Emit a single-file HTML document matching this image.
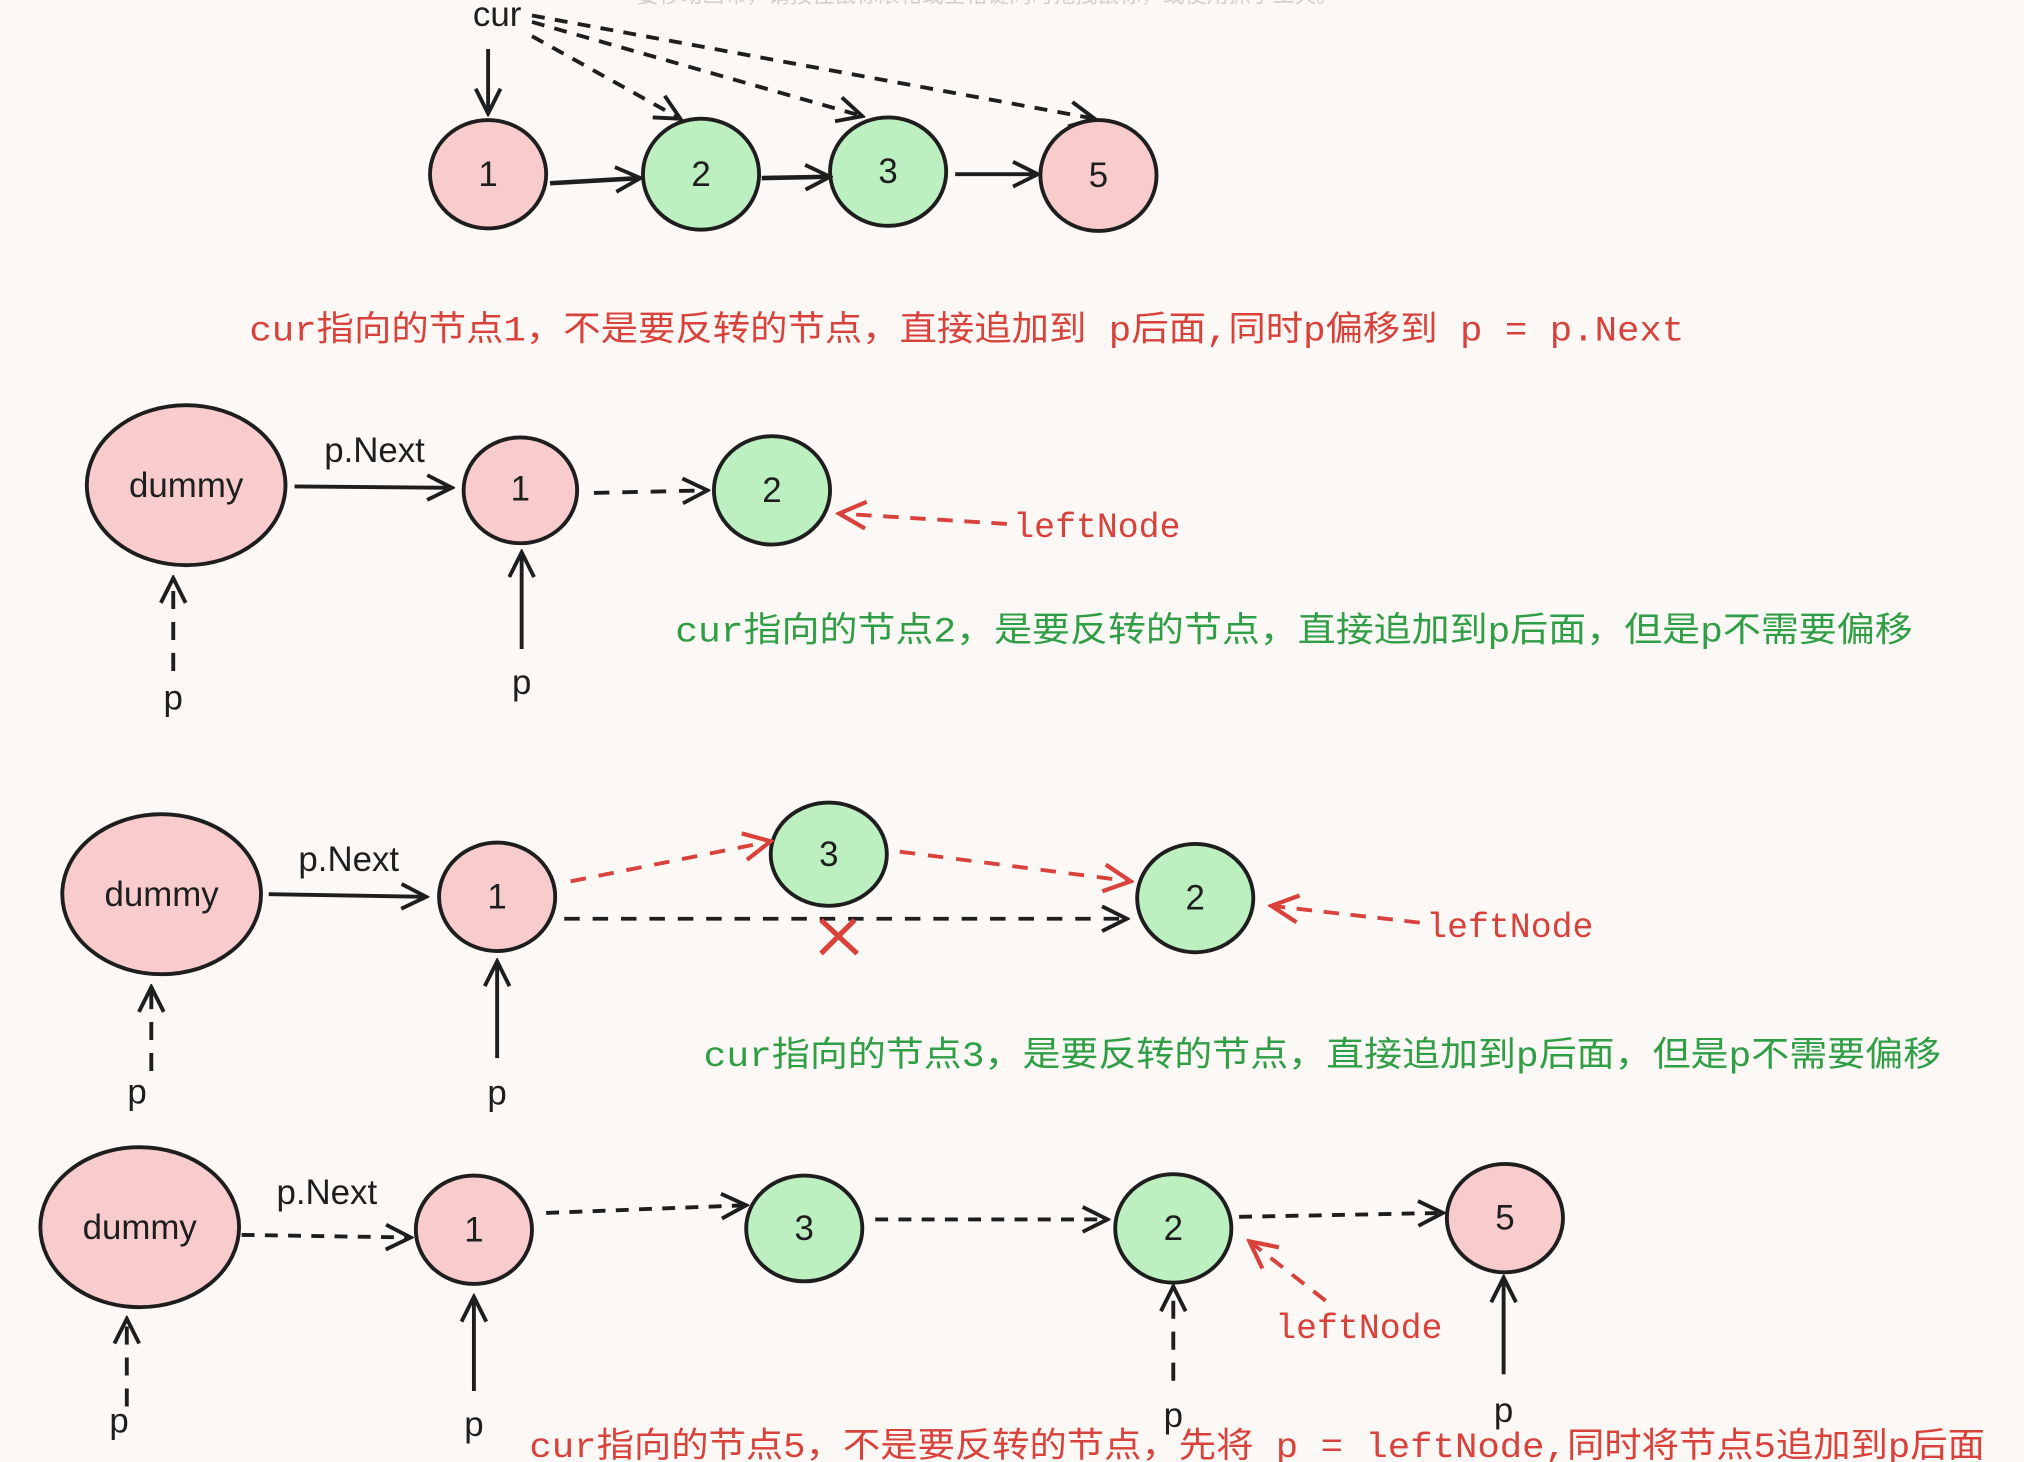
<!DOCTYPE html>
<html><head><meta charset="utf-8"><style>
html,body{margin:0;padding:0;background:#fbf8f5;}
svg{display:block}
text{font-family:"Liberation Sans","Noto Sans CJK SC",sans-serif;}
.m{font-family:"Liberation Mono","Noto Sans CJK SC",monospace;}
</style></head><body>
<svg width="2024" height="1462" viewBox="0 0 1568 1133" xmlns="http://www.w3.org/2000/svg">
<defs>
<marker id="a" viewBox="0 0 20 20" refX="18" refY="10" markerWidth="24" markerHeight="24" markerUnits="userSpaceOnUse" orient="auto"><path d="M2 2 L18 10 L2 18" fill="none" stroke="#1e1e1e" stroke-width="2.5"/></marker>
<marker id="r" viewBox="0 0 20 20" refX="18" refY="10" markerWidth="26" markerHeight="26" markerUnits="userSpaceOnUse" orient="auto"><path d="M2 2 L18 10 L2 18" fill="none" stroke="#d9413b" stroke-width="2.5"/></marker>
</defs>
<rect width="1568" height="1133" fill="#fbf8f5"/>
<text x="765" y="2" font-size="17" fill="#cfcfcf" text-anchor="middle">要移动画布，请按住鼠标滚轮或空格键同时拖拽鼠标，或使用抓手工具。</text>

<g stroke="#1e1e1e" stroke-width="3" fill="none">
<ellipse cx="378" cy="135" rx="45" ry="42" fill="#f8cccc"/>
<ellipse cx="543" cy="135" rx="45" ry="43" fill="#bdf0c1"/>
<ellipse cx="688" cy="133" rx="45" ry="42" fill="#bdf0c1"/>
<ellipse cx="851" cy="136" rx="45" ry="43" fill="#f8cccc"/>
<line x1="378" y1="38" x2="378" y2="88" marker-end="url(#a)"/>
<line x1="412" y1="28" x2="527" y2="92" stroke-dasharray="10 8" marker-end="url(#a)"/>
<line x1="412" y1="17" x2="668" y2="90" stroke-dasharray="10 8" marker-end="url(#a)"/>
<line x1="412" y1="12" x2="848" y2="92" stroke-dasharray="10 8" marker-end="url(#a)"/>
<line x1="426" y1="142" x2="496" y2="138" stroke-width="3.5" marker-end="url(#a)"/>
<line x1="590" y1="138" x2="643" y2="137" stroke-width="3.5" marker-end="url(#a)"/>
<line x1="740" y1="135" x2="804" y2="135" marker-end="url(#a)"/>

<ellipse cx="144" cy="376" rx="77" ry="62" fill="#f8cccc"/>
<ellipse cx="403" cy="380" rx="44" ry="41" fill="#f8cccc"/>
<ellipse cx="598" cy="380" rx="45" ry="42" fill="#bdf0c1"/>
<line x1="228" y1="377" x2="350" y2="378" marker-end="url(#a)"/>
<line x1="460" y1="382" x2="548" y2="380" stroke-dasharray="12 10" marker-end="url(#a)"/>
<line x1="134" y1="520" x2="134" y2="448" stroke-dasharray="14 10" marker-end="url(#a)"/>
<line x1="404" y1="503" x2="404" y2="428" marker-end="url(#a)"/>
<line x1="780" y1="406" x2="650" y2="398" stroke="#d9413b" stroke-dasharray="12 9" marker-end="url(#r)"/>

<ellipse cx="125" cy="693" rx="77" ry="62" fill="#f8cccc"/>
<ellipse cx="385" cy="695" rx="45" ry="42" fill="#f8cccc"/>
<ellipse cx="642" cy="662" rx="45" ry="40" fill="#bdf0c1"/>
<ellipse cx="926" cy="696" rx="45" ry="42" fill="#bdf0c1"/>
<line x1="208" y1="693" x2="330" y2="695" marker-end="url(#a)"/>
<line x1="437" y1="712" x2="873" y2="712" stroke-dasharray="12 10" marker-end="url(#a)"/>
<line x1="442" y1="683" x2="597" y2="652" stroke="#d9413b" stroke-dasharray="12 10" marker-end="url(#r)"/>
<line x1="697" y1="660" x2="876" y2="683" stroke="#d9413b" stroke-dasharray="12 10" marker-end="url(#r)"/>
<line x1="1100" y1="715" x2="985" y2="702" stroke="#d9413b" stroke-dasharray="12 9" marker-end="url(#r)"/>
<path d="M636 713 L664 739 M662 713 L636 739" stroke="#d9413b" stroke-width="4"/>
<line x1="117" y1="830" x2="117" y2="765" stroke-dasharray="14 10" marker-end="url(#a)"/>
<line x1="385" y1="820" x2="385" y2="745" marker-end="url(#a)"/>

<ellipse cx="108" cy="951" rx="77" ry="62" fill="#f8cccc"/>
<ellipse cx="367" cy="953" rx="45" ry="42" fill="#f8cccc"/>
<ellipse cx="623" cy="952" rx="45" ry="41" fill="#bdf0c1"/>
<ellipse cx="909" cy="952" rx="45" ry="42" fill="#bdf0c1"/>
<ellipse cx="1166" cy="944" rx="45" ry="42" fill="#f8cccc"/>
<line x1="187" y1="957" x2="318" y2="959" stroke-dasharray="10 8" marker-end="url(#a)"/>
<line x1="423" y1="940" x2="578" y2="934" stroke-dasharray="10 8" marker-end="url(#a)"/>
<line x1="678" y1="945" x2="858" y2="945" stroke-dasharray="10 8" marker-end="url(#a)"/>
<line x1="960" y1="943" x2="1118" y2="940" stroke-dasharray="10 8" marker-end="url(#a)"/>
<line x1="1027" y1="1008" x2="968" y2="962" stroke="#d9413b" stroke-dasharray="12 9" marker-end="url(#r)"/>
<line x1="98" y1="1090" x2="98" y2="1022" stroke-dasharray="14 10" marker-end="url(#a)"/>
<line x1="367" y1="1078" x2="367" y2="1005" marker-end="url(#a)"/>
<line x1="909" y1="1070" x2="909" y2="997" stroke-dasharray="14 10" marker-end="url(#a)"/>
<line x1="1165" y1="1065" x2="1165" y2="990" marker-end="url(#a)"/>
</g>

<g fill="#1e1e1e" font-size="27" text-anchor="middle">
<text x="385" y="20">cur</text>
<text x="378" y="144">1</text><text x="543" y="144">2</text><text x="688" y="142">3</text><text x="851" y="145">5</text>
<text x="144" y="385">dummy</text><text x="290" y="358">p.Next</text>
<text x="403" y="388">1</text><text x="598" y="389">2</text>
<text x="134" y="550">p</text><text x="404" y="538">p</text>
<text x="125" y="702">dummy</text><text x="270" y="675">p.Next</text>
<text x="385" y="704">1</text><text x="642" y="671">3</text><text x="926" y="705">2</text>
<text x="106" y="855">p</text><text x="385" y="856">p</text>
<text x="108" y="960">dummy</text><text x="253" y="933">p.Next</text>
<text x="367" y="962">1</text><text x="623" y="961">3</text><text x="909" y="961">2</text><text x="1166" y="953">5</text>
<text x="92" y="1110">p</text><text x="367" y="1113">p</text><text x="909" y="1106">p</text><text x="1165" y="1102">p</text>
</g>

<g font-size="27" fill="#d9413b">
<text x="193" y="264" textLength="1112" lengthAdjust="spacingAndGlyphs" class="m">cur指向的节点1，不是要反转的节点，直接追加到 p后面,同时p偏移到 p = p.Next</text>
<text x="785" y="416" class="m">leftNode</text>
<text x="1105" y="726" class="m">leftNode</text>
<text x="988" y="1037" class="m">leftNode</text>
<text x="410" y="1129" textLength="1128" lengthAdjust="spacingAndGlyphs" class="m">cur指向的节点5，不是要反转的节点，先将 p = leftNode,同时将节点5追加到p后面</text>
</g>
<g font-size="27" fill="#2f9e44">
<text x="523" y="497" textLength="959" lengthAdjust="spacingAndGlyphs" class="m">cur指向的节点2，是要反转的节点，直接追加到p后面，但是p不需要偏移</text>
<text x="545" y="826" textLength="959" lengthAdjust="spacingAndGlyphs" class="m">cur指向的节点3，是要反转的节点，直接追加到p后面，但是p不需要偏移</text>
</g>
</svg>
</body></html>
